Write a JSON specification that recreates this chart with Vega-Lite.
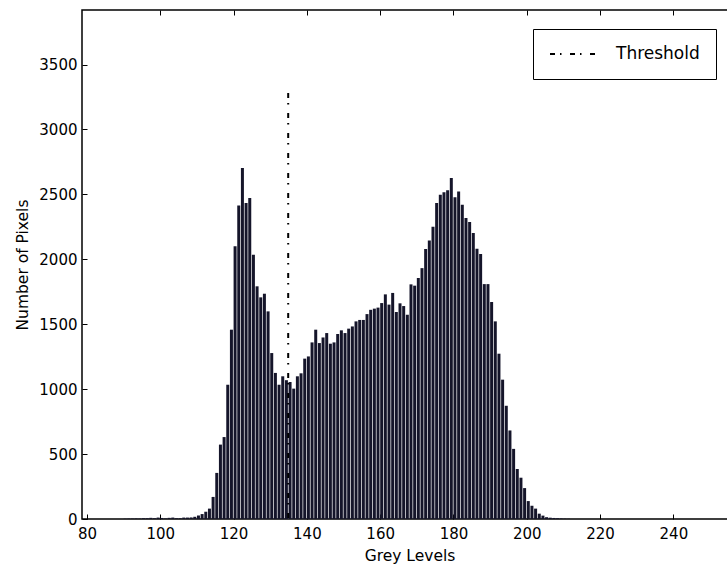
{
  "$schema": "https://vega.github.io/schema/vega-lite/v6.json",
  "width": 655,
  "height": 509,
  "autosize": {"type": "none"},
  "padding": {"left": 82, "top": 10, "right": 0, "bottom": 53},
  "background": "white",
  "config": {
    "view": {"stroke": "black", "strokeWidth": 1.5},
    "font": "DejaVu Sans",
    "axis": {
      "labelFont": "DejaVu Sans",
      "labelFontSize": 15,
      "labelColor": "black",
      "titleFont": "DejaVu Sans",
      "titleFontSize": 15.5,
      "titleFontWeight": "normal",
      "titleColor": "black",
      "domain": false,
      "grid": false,
      "tickColor": "black",
      "tickWidth": 1,
      "tickSize": -5,
      "labelFlush": false,
      "labelOverlap": false,
      "format": "d"
    },
    "legend": {
      "labelFont": "DejaVu Sans",
      "labelFontSize": 17,
      "labelColor": "black"
    }
  },
  "resolve": {"axis": {"x": "independent"}},
  "layer": [
    {
      "data": {
        "values": [
          {"level": 90, "count": 2}, {"level": 91, "count": 3}, {"level": 92, "count": 3}, {"level": 93, "count": 4},
          {"level": 94, "count": 3}, {"level": 95, "count": 6}, {"level": 96, "count": 6}, {"level": 97, "count": 9},
          {"level": 98, "count": 6}, {"level": 99, "count": 11}, {"level": 100, "count": 8}, {"level": 101, "count": 4},
          {"level": 102, "count": 9}, {"level": 103, "count": 11}, {"level": 104, "count": 6}, {"level": 105, "count": 6},
          {"level": 106, "count": 11}, {"level": 107, "count": 11}, {"level": 108, "count": 12}, {"level": 109, "count": 17},
          {"level": 110, "count": 27}, {"level": 111, "count": 38}, {"level": 112, "count": 56}, {"level": 113, "count": 80},
          {"level": 114, "count": 170}, {"level": 115, "count": 355}, {"level": 116, "count": 573}, {"level": 117, "count": 631},
          {"level": 118, "count": 1034}, {"level": 119, "count": 1458}, {"level": 120, "count": 2100}, {"level": 121, "count": 2415},
          {"level": 122, "count": 2703}, {"level": 123, "count": 2433}, {"level": 124, "count": 2472}, {"level": 125, "count": 2035},
          {"level": 126, "count": 1792}, {"level": 127, "count": 1707}, {"level": 128, "count": 1735}, {"level": 129, "count": 1599},
          {"level": 130, "count": 1278}, {"level": 131, "count": 1125}, {"level": 132, "count": 1034}, {"level": 133, "count": 1099},
          {"level": 134, "count": 1069}, {"level": 135, "count": 1055}, {"level": 136, "count": 1004}, {"level": 137, "count": 1099},
          {"level": 138, "count": 1122}, {"level": 139, "count": 1235}, {"level": 140, "count": 1252}, {"level": 141, "count": 1360},
          {"level": 142, "count": 1458}, {"level": 143, "count": 1355}, {"level": 144, "count": 1398}, {"level": 145, "count": 1432},
          {"level": 146, "count": 1350}, {"level": 147, "count": 1360}, {"level": 148, "count": 1425}, {"level": 149, "count": 1453},
          {"level": 150, "count": 1432}, {"level": 151, "count": 1466}, {"level": 152, "count": 1483}, {"level": 153, "count": 1522},
          {"level": 154, "count": 1533}, {"level": 155, "count": 1533}, {"level": 156, "count": 1578}, {"level": 157, "count": 1611},
          {"level": 158, "count": 1620}, {"level": 159, "count": 1628}, {"level": 160, "count": 1663}, {"level": 161, "count": 1730},
          {"level": 162, "count": 1651}, {"level": 163, "count": 1741}, {"level": 164, "count": 1594}, {"level": 165, "count": 1661},
          {"level": 166, "count": 1640}, {"level": 167, "count": 1573}, {"level": 168, "count": 1807}, {"level": 169, "count": 1797},
          {"level": 170, "count": 1856}, {"level": 171, "count": 1932}, {"level": 172, "count": 2079}, {"level": 173, "count": 2145},
          {"level": 174, "count": 2251}, {"level": 175, "count": 2433}, {"level": 176, "count": 2498}, {"level": 177, "count": 2516},
          {"level": 178, "count": 2531}, {"level": 179, "count": 2626}, {"level": 180, "count": 2477}, {"level": 181, "count": 2523},
          {"level": 182, "count": 2420}, {"level": 183, "count": 2318}, {"level": 184, "count": 2287}, {"level": 185, "count": 2202},
          {"level": 186, "count": 2082}, {"level": 187, "count": 2040}, {"level": 188, "count": 1809}, {"level": 189, "count": 1809},
          {"level": 190, "count": 1671}, {"level": 191, "count": 1522}, {"level": 192, "count": 1273}, {"level": 193, "count": 1073},
          {"level": 194, "count": 872}, {"level": 195, "count": 682}, {"level": 196, "count": 540}, {"level": 197, "count": 385},
          {"level": 198, "count": 318}, {"level": 199, "count": 238}, {"level": 200, "count": 138}, {"level": 201, "count": 102},
          {"level": 202, "count": 80}, {"level": 203, "count": 41}, {"level": 204, "count": 26}, {"level": 205, "count": 14},
          {"level": 206, "count": 10}, {"level": 207, "count": 8}, {"level": 208, "count": 6}, {"level": 209, "count": 4},
          {"level": 210, "count": 3}, {"level": 211, "count": 2}
        ]
      },
      "mark": {"type": "bar", "width": 3, "xOffset": 1.5, "fill": "#15152a", "clip": true},
      "encoding": {
        "x": {
          "field": "level",
          "type": "quantitative",
          "scale": {"domain": [80, 256], "nice": false, "zero": false},
          "axis": {
            "orient": "bottom",
            "values": [80, 100, 120, 140, 160, 180, 200, 220, 240],
            "title": "Grey Levels",
            "labelPadding": 12,
            "titlePadding": 7
          }
        },
        "y": {
          "field": "count",
          "type": "quantitative",
          "scale": {"domain": [0, 3920], "nice": false},
          "axis": {
            "values": [0, 500, 1000, 1500, 2000, 2500, 3000, 3500],
            "title": "Number of Pixels",
            "labelPadding": 10,
            "titlePadding": 8
          }
        }
      }
    },
    {
      "data": {"values": [{"name": "Threshold", "x": 134.9, "top": 3280}]},
      "mark": {"type": "rule", "strokeWidth": 2, "color": "black"},
      "encoding": {
        "x": {
          "field": "x",
          "type": "quantitative",
          "scale": {"domain": [80, 256], "nice": false, "zero": false},
          "axis": {
            "orient": "top",
            "values": [100, 120, 140, 160, 180, 200, 220, 240],
            "labels": false,
            "title": null
          }
        },
        "y": {"field": "top", "type": "quantitative"},
        "y2": {"datum": 0},
        "strokeDash": {
          "field": "name",
          "type": "nominal",
          "scale": {"range": [[5, 5, 1.5, 8.5]]},
          "legend": {
            "title": null,
            "orient": "none",
            "legendX": 451,
            "legendY": 19,
            "padding": 16,
            "strokeColor": "black",
            "fillColor": "white",
            "symbolType": "stroke",
            "symbolSize": 2025,
            "symbolStrokeWidth": 2,
            "symbolStrokeColor": "black",
            "labelOffset": 20,
            "clipHeight": 18,
            "cornerRadius": 0
          }
        }
      }
    }
  ]
}
